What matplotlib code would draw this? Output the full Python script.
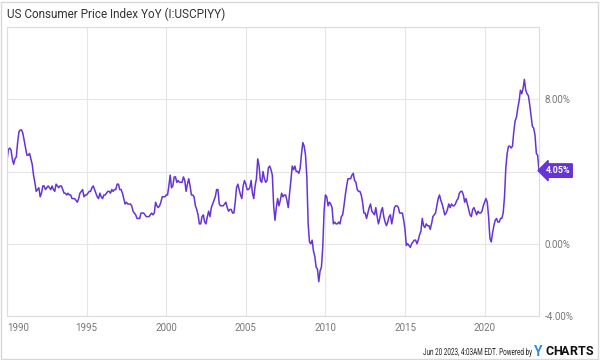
import matplotlib
matplotlib.use("Agg")
import matplotlib.pyplot as plt
import matplotlib.transforms as mtransforms
from matplotlib.patches import Rectangle, PathPatch
from matplotlib.textpath import TextPath
from matplotlib.font_manager import FontProperties

plt.rcParams['font.family'] = ['Roboto', 'DejaVu Sans']

# US CPI YoY %, monthly, Dec 1989 .. May 2023
start_year = 1989
start_month = 12
cpi_yoy = [
    4.6,
    # 1990
    5.2, 5.3, 5.2, 4.7, 4.4, 4.7, 4.8, 5.6, 6.2, 6.3, 6.3, 6.1,
    # 1991
    5.7, 5.3, 4.9, 4.9, 5.0, 4.7, 4.4, 3.8, 3.4, 2.9, 3.0, 3.1,
    # 1992
    2.6, 2.8, 3.2, 3.2, 3.0, 3.1, 3.2, 3.1, 3.0, 3.2, 3.0, 2.9,
    # 1993
    3.3, 3.2, 3.1, 3.2, 3.2, 3.0, 2.8, 2.8, 2.7, 2.8, 2.7, 2.7,
    # 1994
    2.5, 2.5, 2.5, 2.4, 2.3, 2.5, 2.8, 2.9, 3.0, 2.6, 2.7, 2.7,
    # 1995
    2.8, 2.9, 2.9, 3.1, 3.2, 3.0, 2.8, 2.6, 2.5, 2.8, 2.6, 2.5,
    # 1996
    2.7, 2.7, 2.8, 2.9, 2.9, 2.8, 3.0, 2.9, 3.0, 3.0, 3.3, 3.3,
    # 1997
    3.0, 3.0, 2.8, 2.5, 2.2, 2.3, 2.2, 2.2, 2.2, 2.1, 1.8, 1.7,
    # 1998
    1.6, 1.4, 1.4, 1.4, 1.7, 1.7, 1.7, 1.6, 1.5, 1.5, 1.5, 1.6,
    # 1999
    1.7, 1.6, 1.7, 2.3, 2.1, 2.0, 2.1, 2.3, 2.6, 2.6, 2.6, 2.7,
    # 2000
    2.7, 3.2, 3.8, 3.1, 3.2, 3.7, 3.7, 3.4, 3.5, 3.4, 3.4, 3.4,
    # 2001
    3.7, 3.5, 2.9, 3.3, 3.6, 3.2, 2.7, 2.7, 2.6, 2.1, 1.9, 1.6,
    # 2002
    1.1, 1.1, 1.5, 1.6, 1.2, 1.1, 1.5, 1.8, 1.5, 2.0, 2.2, 2.4,
    # 2003
    2.6, 3.0, 3.0, 2.2, 2.1, 2.1, 2.1, 2.2, 2.3, 2.0, 1.8, 1.9,
    # 2004
    1.9, 1.7, 1.7, 2.3, 3.1, 3.3, 3.0, 2.7, 2.5, 3.2, 3.5, 3.3,
    # 2005
    3.0, 3.0, 3.1, 3.5, 2.8, 2.5, 3.2, 3.6, 4.7, 4.3, 3.5, 3.4,
    # 2006
    4.0, 3.6, 3.4, 3.5, 4.2, 4.3, 4.1, 3.8, 2.1, 1.3, 2.0, 2.5,
    # 2007
    2.1, 2.4, 2.8, 2.6, 2.7, 2.7, 2.4, 2.0, 2.8, 3.5, 4.3, 4.1,
    # 2008
    4.3, 4.0, 4.0, 3.9, 4.2, 5.0, 5.6, 5.4, 4.9, 3.7, 1.1, 0.1,
    # 2009
    0.0, 0.2, -0.4, -0.7, -1.3, -1.4, -2.1, -1.5, -1.3, -0.2, 1.8, 2.7,
    # 2010
    2.6, 2.1, 2.3, 2.2, 2.0, 1.1, 1.2, 1.1, 1.1, 1.2, 1.1, 1.5,
    # 2011
    1.6, 2.1, 2.7, 3.2, 3.6, 3.6, 3.6, 3.8, 3.9, 3.5, 3.4, 3.0,
    # 2012
    2.9, 2.9, 2.7, 2.3, 1.7, 1.7, 1.4, 1.7, 2.0, 2.2, 1.8, 1.7,
    # 2013
    1.6, 2.0, 1.5, 1.1, 1.4, 1.8, 2.0, 1.5, 1.2, 1.0, 1.2, 1.5,
    # 2014
    1.6, 1.1, 1.5, 2.0, 2.1, 2.1, 2.0, 1.7, 1.7, 1.7, 1.3, 0.8,
    # 2015
    -0.1, 0.0, -0.1, -0.2, 0.0, 0.1, 0.2, 0.2, 0.0, 0.2, 0.5, 0.7,
    # 2016
    1.4, 1.0, 0.9, 1.1, 1.0, 1.0, 0.8, 1.1, 1.5, 1.6, 1.7, 2.1,
    # 2017
    2.5, 2.7, 2.4, 2.2, 1.9, 1.6, 1.7, 1.9, 2.2, 2.0, 2.2, 2.1,
    # 2018
    2.1, 2.2, 2.4, 2.5, 2.8, 2.9, 2.9, 2.7, 2.3, 2.5, 2.2, 1.9,
    # 2019
    1.6, 1.5, 1.9, 2.0, 1.8, 1.6, 1.8, 1.7, 1.7, 1.8, 2.1, 2.3,
    # 2020
    2.5, 2.3, 1.5, 0.3, 0.1, 0.6, 1.0, 1.3, 1.4, 1.2, 1.2, 1.4,
    # 2021
    1.4, 1.7, 2.6, 4.2, 5.0, 5.4, 5.4, 5.3, 5.4, 6.2, 6.8, 7.0,
    # 2022
    7.5, 7.9, 8.5, 8.3, 8.6, 9.1, 8.5, 8.3, 8.2, 7.7, 7.1, 6.5,
    # 2023
    6.4, 6.0, 5.0, 4.9, 4.05,
]

x_ticks = [1990, 1995, 2000, 2005, 2010, 2015, 2020]
y_ticks = [-4, 0, 4, 8]
y_labels = ['-4.00%', '0.00%', '4.00%', '8.00%']
last_label = '4.05%'

# month-end positions as fractional years
dates = [start_year + (start_month + i) / 12 for i in range(len(cpi_yoy))]

purple = '#6633d6'
grid_c = '#e6e6e6'
tick_c = '#777777'

fig = plt.figure(figsize=(6, 3.6), dpi=100)
ax = fig.add_axes([7/600, 1 - 316/360, 532/600, 289/360])

ax.plot(dates, cpi_yoy, color=purple, lw=1.1, solid_joinstyle='round')

ax.set_xlim(dates[0], dates[-1])
ax.set_ylim(-4, 12)

ax.set_xticks(x_ticks)
ax.set_xticklabels([str(y) for y in x_ticks])
ax.get_xticklabels()[0].set_ha('left')
ax.set_yticks(y_ticks)
ax.set_yticklabels(y_labels)
ax.yaxis.tick_right()
ax.tick_params(axis='both', length=0, labelsize=7, colors=tick_c)
ax.tick_params(axis='x', pad=5)
ax.tick_params(axis='y', pad=4)
ax.grid(True, color=grid_c, lw=0.8)
ax.axhline(12, color=grid_c, lw=0.8)
for s in ax.spines.values():
    s.set_color('#dcdcdc')
    s.set_linewidth(0.8)

# last value tag (covers the 4.00% tick label, as in the original)
trans = mtransforms.blended_transform_factory(ax.transAxes, ax.transData)
ax.text(1.012, cpi_yoy[-1], last_label, transform=trans, ha='left', va='center',
        color='white', fontsize=6.5, fontweight='bold', clip_on=False, zorder=5,
        bbox=dict(boxstyle='larrow,pad=0.25', fc=purple, ec=purple))

fig.text(7/600, 1 - 14/360, 'US Consumer Price Index YoY (I:USCPIYY)',
         fontsize=8.5, color='#333333', ha='left', va='center')


def narrow_text(s, x_right, y_base, size_px, sx, color):
    # condensed text drawn as a path, in pixel coords from top-left
    tp = TextPath((0, 0), s, size=size_px, prop=FontProperties(family='Roboto'))
    w = tp.get_extents().x1 * sx
    tr = mtransforms.Affine2D().scale(sx, 1).translate(x_right - w, 360 - y_base)
    fig.patches.append(PathPatch(tr.transform_path(tp), fc=color, ec='none',
                                 transform=mtransforms.IdentityTransform()))


narrow_text('Jun 20 2023, 4:03AM EDT.', 497, 355, 9.6, 0.66, '#222222')
narrow_text('Powered by', 532, 355, 9.6, 0.66, '#222222')
fig.text(534/600, 1 - 351.5/360, 'Y', fontsize=10, color='#2a8fe0',
         fontweight='bold', ha='left', va='center')
for i, ch in enumerate('CHARTS'):
    fig.text((545 + i * 8.2) / 600, 1 - 351.5/360, ch, fontsize=9, color='#111111',
             fontweight='bold', ha='left', va='center')

fig.patches.append(Rectangle((1/600, 1/360), 597/600, 357/360, transform=fig.transFigure,
                             fill=False, ec='#d8d8d8', lw=1))

fig.savefig('out.png', dpi=100)
